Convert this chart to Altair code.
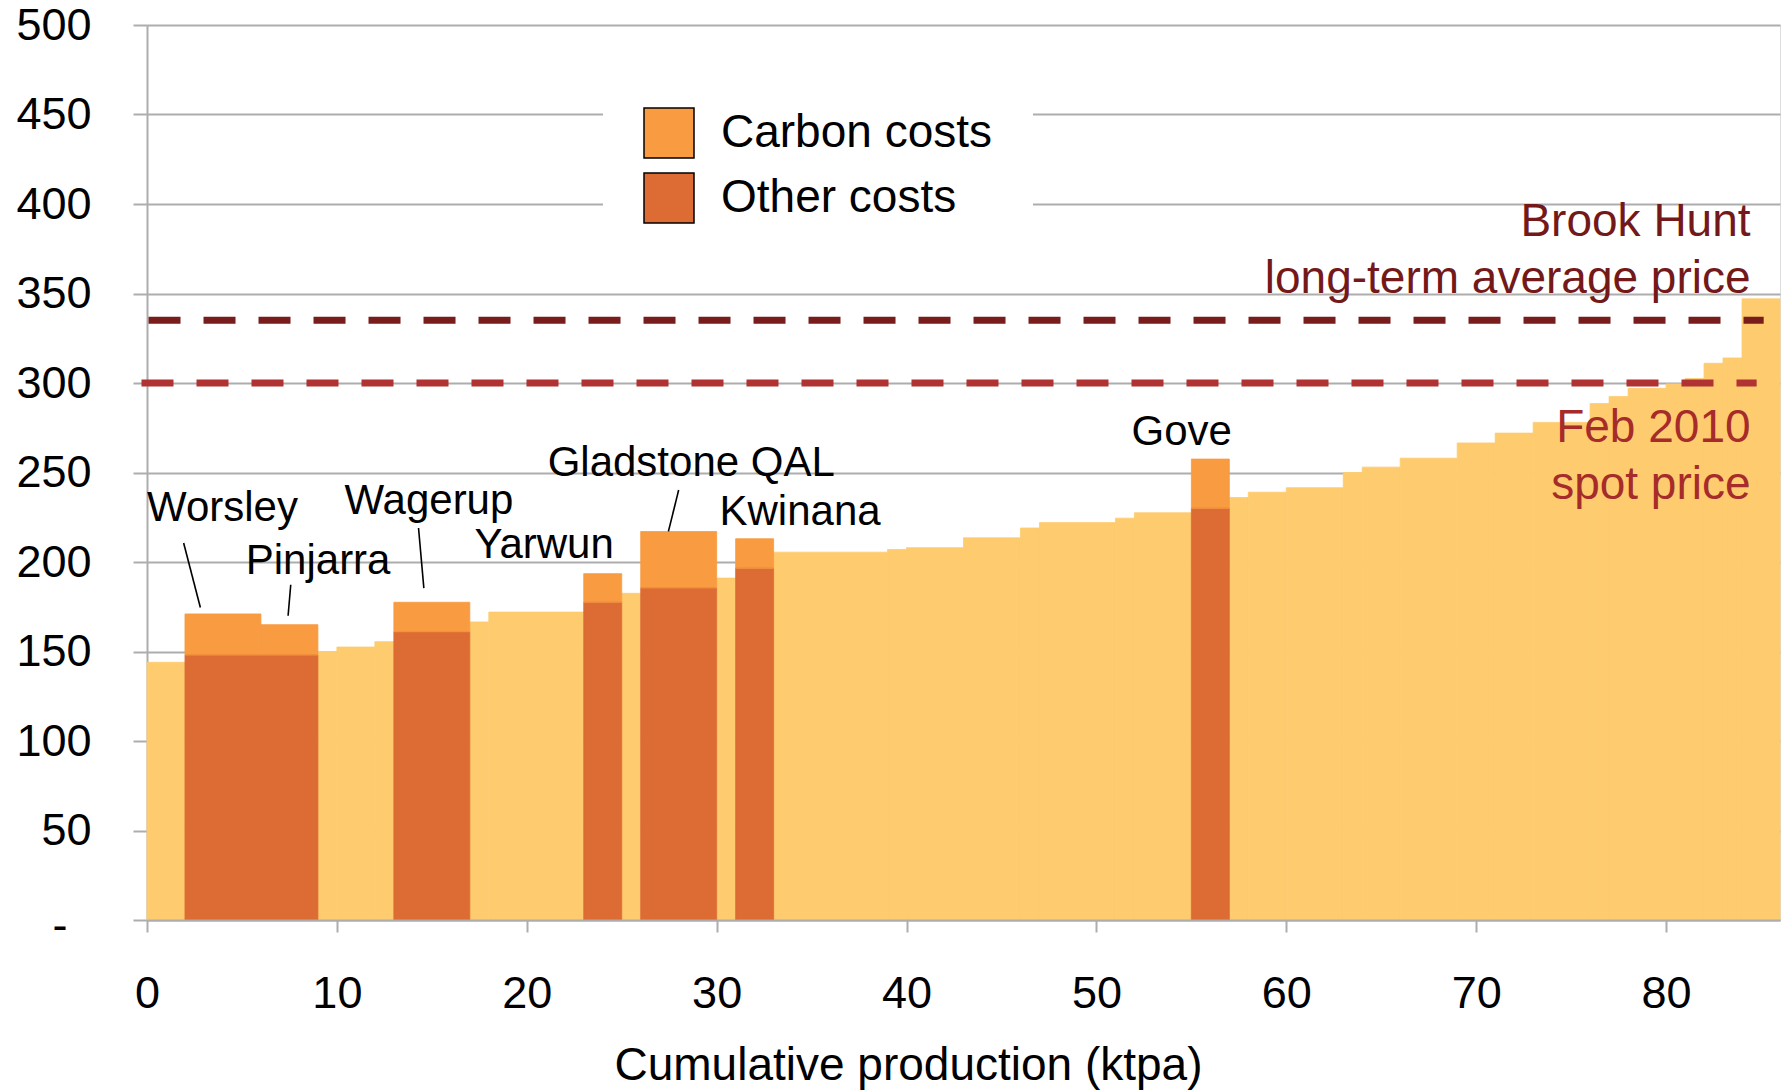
import altair as alt
import pandas as pd

# Alumina refinery cost curve: blocks laid end to end along cumulative production.
# Widths are refinery capacity (ktpa); heights are unit costs ($/t).
capacity = [2, 4, 3, 1, 2, 1, 4, 1, 5, 2, 1, 4, 1, 2, 6, 1, 3, 3, 1, 4, 1, 3, 2,
            1, 2, 3, 1, 2, 3, 2, 2, 3, 1, 1, 2, 1, 1, 1, 1, 2]
total_cost = [144, 171, 165, 150, 152.5, 155.5, 177.5, 166.5, 172, 193.5,
              182.5, 217, 191, 213, 205.5, 207, 208, 213.5, 219, 222,
              224.5, 227.5, 257.5, 236, 239, 241.5, 250, 253, 258, 266.5,
              272, 278, 288.5, 292.5, 297, 299.5, 302.5, 311, 314, 347]
refinery = ["", "Worsley", "Pinjarra", "", "", "", "Wagerup", "", "", "Yarwun",
            "", "Gladstone QAL", "", "Kwinana", "", "", "", "", "", "",
            "", "", "Gove", "", "", "", "", "", "", "",
            "", "", "", "", "", "", "", "", "", ""]
# Non-carbon part of the cost for the named Australian refineries
other_cost = [None, 148, 148, None, None, None, 161, None, None, 177.5,
              None, 185.5, None, 196.5, None, None, None, None, None, None,
              None, None, 230, None, None, None, None, None, None, None,
              None, None, None, None, None, None, None, None, None, None]

# Reference prices ($/t)
price_names = ["Brook Hunt long-term average price", "Feb 2010 spot price"]
price_values = [335, 300]

# Refinery labels (anchor in ktpa / $ units) and their leader lines
label_text = ["Worsley", "Pinjarra", "Wagerup", "Yarwun", "Gladstone QAL", "Kwinana", "Gove"]
label_x = [0.0, 5.2, 10.4, 17.25, 21.1, 30.15, 51.85]
label_y = [223.0, 193.3, 226.8, 202.2, 248.2, 220.8, 265.3]
leader_x = [1.93, 7.57, 14.30, 28.0]
leader_y = [210.6, 187.3, 219.0, 240.2]
leader_x2 = [2.81, 7.43, 14.58, 27.46]
leader_y2 = [174.6, 170.0, 185.4, 217.1]

LIGHT = "#FECB6E"
OTHER = "#DC6B34"
CARBON = "#F89B41"
GRID = "#ADADAD"
LONG_TERM = "#781C1C"
SPOT = "#B03232"
FONT = "Liberation Sans"

df = pd.DataFrame({"refinery": refinery, "capacity": capacity,
                   "total": total_cost, "other": other_cost})
df["x1"] = df["capacity"].cumsum()
df["x0"] = df["x1"] - df["capacity"]
df["base"] = 0.0

plain = df[df["refinery"] == ""]
named = df[df["refinery"] != ""]
segments = pd.concat([
    pd.DataFrame({"x0": named["x0"], "x1": named["x1"], "lo": 0.0,
                  "hi": named["other"], "cost": "Other costs"}),
    pd.DataFrame({"x0": named["x0"], "x1": named["x1"], "lo": named["other"],
                  "hi": named["total"], "cost": "Carbon costs"}),
], ignore_index=True)

prices = pd.DataFrame({"name": price_names, "price": price_values,
                       "x0": [0.08, -0.29], "x1": [85.14, 84.77]})
labels = pd.DataFrame({"text": label_text, "x": label_x, "y": label_y})
leaders = pd.DataFrame({"x": leader_x, "y": leader_y, "x2": leader_x2, "y2": leader_y2})
price_text = pd.DataFrame({
    "text": ["Brook Hunt", "long-term average price", "Feb 2010", "spot price"],
    "x": [84.45, 84.45, 84.45, 84.45],
    "y": [382.2, 350.5, 266.8, 235.4],
    "group": ["lt", "lt", "spot", "spot"],
})

x_scale = alt.Scale(domain=[0, 86], nice=False, zero=False)
y_scale = alt.Scale(domain=[0, 500], nice=False)
cost_domain = ["Carbon costs", "Other costs"]
cost_range = [CARBON, OTHER]

x_axis = alt.Axis(
    values=list(range(0, 90, 10)), title="Cumulative production (ktpa)",
    grid=False, domainColor=GRID, domainWidth=2, tickColor=GRID, tickWidth=2,
    tickSize=12, labelFontSize=45, labelColor="black", labelPadding=39,
    labelFont=FONT, titleFont=FONT, titleFontSize=46, titleFontWeight="normal",
    titleColor="black", titleX=761, titleY=159, titleBaseline="alphabetic",
    labelFlush=False, zindex=1,
)
y_axis = alt.Axis(
    values=list(range(0, 550, 50)), title=None, grid=True, gridColor=GRID,
    gridWidth=2, domainColor=GRID, domainWidth=2, tickColor=GRID, tickWidth=2,
    tickSize=14, labelFontSize=45, labelColor="black",
    labelPadding={"condition": {"test": "datum.value == 0", "value": 66}, "value": 42},
    labelFont=FONT,
    labelExpr="datum.value == 0 ? '-' : datum.label",
    labelOffset={"condition": {"test": "datum.value == 0", "value": 5}, "value": 0},
)


def xq(field):
    return alt.X(f"{field}:Q", scale=x_scale, axis=x_axis)


def yq(field):
    return alt.Y(f"{field}:Q", scale=y_scale, axis=y_axis)


plain_bars = alt.Chart(plain).mark_rect(
    color=LIGHT, stroke=LIGHT, strokeWidth=0.8
).encode(x=xq("x0"), x2="x1", y=yq("total"), y2="base")

# Filled cost segments, carrying the legend
cost_bars = alt.Chart(segments).mark_rect().encode(
    x=xq("x0"), x2="x1", y=yq("hi"), y2="lo",
    color=alt.Color(
        "cost:N",
        scale=alt.Scale(domain=cost_domain, range=cost_range),
        legend=alt.Legend(
            title=None, orient="none", legendX=456, legendY=42, padding=40,
            fillColor="white", symbolType="square", symbolSize=2500,
            symbolStrokeColor="black", symbolStrokeWidth=1.5, symbolOpacity=1,
            labelFontSize=46, labelFont=FONT, labelColor="black",
            labelOffset=26, rowPadding=9, labelLimit=0,
        ),
    ),
)

# Same-coloured outlines so adjoining segments join without hairline gaps
other_edges = alt.Chart(segments[segments["cost"] == "Other costs"]).mark_rect(
    fillOpacity=0, stroke=OTHER, strokeWidth=0.8
).encode(x=xq("x0"), x2="x1", y=yq("hi"), y2="lo")

carbon_edges = alt.Chart(segments[segments["cost"] == "Carbon costs"]).mark_rect(
    fillOpacity=0, stroke=CARBON, strokeWidth=0.8
).encode(x=xq("x0"), x2="x1", y=yq("hi"), y2="lo")

long_term_line = alt.Chart(prices[prices["price"] == 335]).mark_rule(
    color=LONG_TERM, strokeWidth=7, strokeDash=[32, 23]
).encode(x=xq("x0"), x2="x1", y=yq("price"))

spot_line = alt.Chart(prices[prices["price"] == 300]).mark_rule(
    color=SPOT, strokeWidth=7, strokeDash=[32, 23]
).encode(x=xq("x0"), x2="x1", y=yq("price"))

leader_lines = alt.Chart(leaders).mark_rule(color="black", strokeWidth=1.6).encode(
    x=xq("x"), x2="x2", y=yq("y"), y2="y2"
)

refinery_labels = alt.Chart(labels).mark_text(
    align="left", baseline="alphabetic", fontSize=42, font=FONT, color="black"
).encode(x=xq("x"), y=yq("y"), text="text:N")

lt_labels = alt.Chart(price_text[price_text["group"] == "lt"]).mark_text(
    align="right", baseline="alphabetic", fontSize=46, font=FONT, color="#741919"
).encode(x=xq("x"), y=yq("y"), text="text:N")

spot_labels = alt.Chart(price_text[price_text["group"] == "spot"]).mark_text(
    align="right", baseline="alphabetic", fontSize=46, font=FONT, color="#A62B2B"
).encode(x=xq("x"), y=yq("y"), text="text:N")

chart = alt.layer(
    plain_bars, cost_bars, other_edges, carbon_edges, long_term_line, spot_line,
    leader_lines, refinery_labels, lt_labels, spot_labels,
).properties(
    width=1633, height=895,
    padding={"left": 147, "top": 25, "right": 7, "bottom": 170},
    autosize=alt.AutoSizeParams(type="none"),
    background="white",
).configure_view(strokeWidth=0).configure(font=FONT)

chart.save("out.html", embed_options={"renderer": "svg", "actions": False})
